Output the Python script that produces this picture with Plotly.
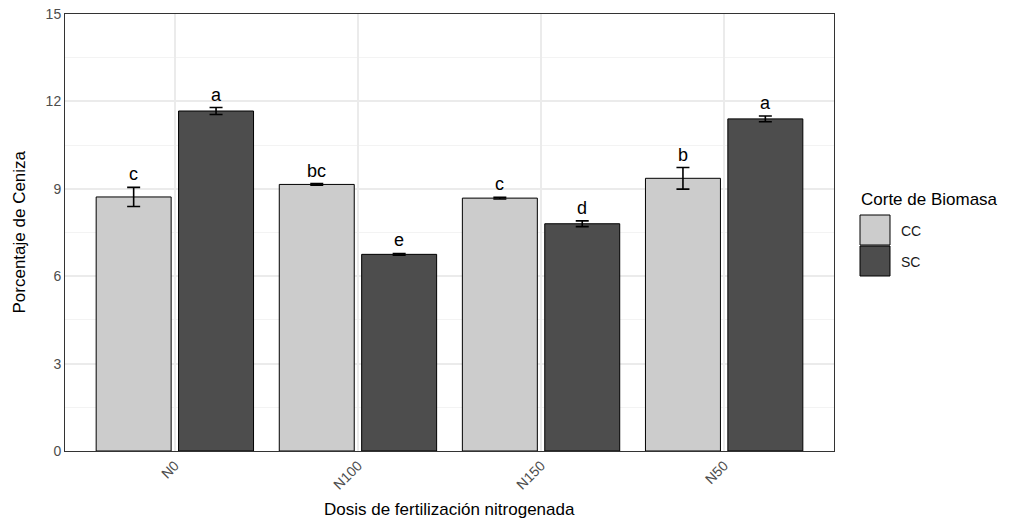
import plotly.graph_objects as go

categories = ["N0", "N100", "N150", "N50"]
groups = ["CC", "SC"]
cc_values = [8.72, 9.15, 8.68, 9.36]
sc_values = [11.67, 6.75, 7.80, 11.40]
cc_err = [0.33, 0.03, 0.03, 0.37]
sc_err = [0.12, 0.03, 0.10, 0.10]
cc_letters = ["c", "bc", "c", "b"]
sc_letters = ["a", "e", "d", "a"]
colors = {"CC": "#cccccc", "SC": "#4d4d4d"}

xpos = list(range(len(categories)))
BARGAP = 0.1
GROUPGAP = 0.09
slot = (1 - BARGAP) / 2
offsets = {"CC": -slot / 2, "SC": slot / 2}

font_family = "Liberation Sans, Arial, sans-serif"
W, H = 1024, 524
L, R, T, B = 65, 190, 14, 73
pw, ph = W - L - R, H - T - B


def px(x):
    return (x - L) / pw


def py(y):
    return (H - B - y) / ph


fig = go.Figure()
for g, vals, errs in [("CC", cc_values, cc_err), ("SC", sc_values, sc_err)]:
    fig.add_trace(go.Bar(
        x=xpos, y=vals, name=g,
        marker=dict(color=colors[g], line=dict(color="black", width=1)),
        error_y=dict(type="data", array=errs, color="black", thickness=1.6, width=6.5),
        showlegend=False,
    ))

for g, vals, errs, letters in [("CC", cc_values, cc_err, cc_letters),
                               ("SC", sc_values, sc_err, sc_letters)]:
    for i, (v, e, t) in enumerate(zip(vals, errs, letters)):
        fig.add_annotation(x=i + offsets[g], y=v + e, text=t, showarrow=False,
                           xref="x", yref="y", yanchor="bottom", yshift=1,
                           font=dict(size=18, color="black", family=font_family))

# custom legend
fig.add_annotation(x=px(859), y=py(200), xref="paper", yref="paper", text="Corte de Biomasa",
                   showarrow=False, xanchor="left", yanchor="middle",
                   font=dict(size=17, color="black", family=font_family))
key_tops = [215, 246]
for g, top in zip(groups, key_tops):
    fig.add_shape(type="rect", xref="paper", yref="paper",
                  x0=px(860), x1=px(890), y0=py(top), y1=py(top + 30),
                  fillcolor=colors[g], line=dict(color="black", width=1))
    fig.add_annotation(x=px(899), y=py(top + 16), xref="paper", yref="paper", text=g,
                       showarrow=False, xanchor="left", yanchor="middle",
                       font=dict(size=14, color="#1a1a1a", family=font_family))

# axis titles
fig.add_annotation(x=0.5, y=py(510), xref="paper", yref="paper",
                   text="Dosis de fertilización nitrogenada", showarrow=False,
                   xanchor="center", yanchor="middle",
                   font=dict(size=17, color="black", family=font_family))
fig.add_annotation(x=px(19), y=0.5, xref="paper", yref="paper",
                   text="Porcentaje de Ceniza", showarrow=False, textangle=-90,
                   xanchor="center", yanchor="middle",
                   font=dict(size=17, color="black", family=font_family))

fig.update_layout(
    width=W, height=H,
    margin=dict(l=L, r=R, t=T, b=B),
    plot_bgcolor="white", paper_bgcolor="white",
    barmode="group", bargap=BARGAP, bargroupgap=GROUPGAP,
    font=dict(family=font_family),
)

fig.update_xaxes(
    range=[-0.6, 3.6], tickvals=xpos, ticktext=categories, tickangle=-45,
    showgrid=True, gridcolor="#ebebeb", gridwidth=1.5,
    showline=True, mirror=True, linecolor="#333333", linewidth=1,
    ticks="", tickfont=dict(size=14, color="#4d4d4d"),
    automargin=False, zeroline=False,
)
fig.update_yaxes(
    range=[0, 15], tickvals=[0, 3, 6, 9, 12, 15],
    showgrid=True, gridcolor="#ebebeb", gridwidth=1.5,
    minor=dict(tickvals=[1.5, 4.5, 7.5, 10.5, 13.5], showgrid=True, gridcolor="#f3f3f3", gridwidth=1),
    showline=True, mirror=True, linecolor="#333333", linewidth=1,
    ticks="", tickfont=dict(size=14, color="#4d4d4d"),
    automargin=False, zeroline=False,
)

fig.write_html("out.html", config={"displayModeBar": False},
               post_script="document.body.style.margin='0';")
